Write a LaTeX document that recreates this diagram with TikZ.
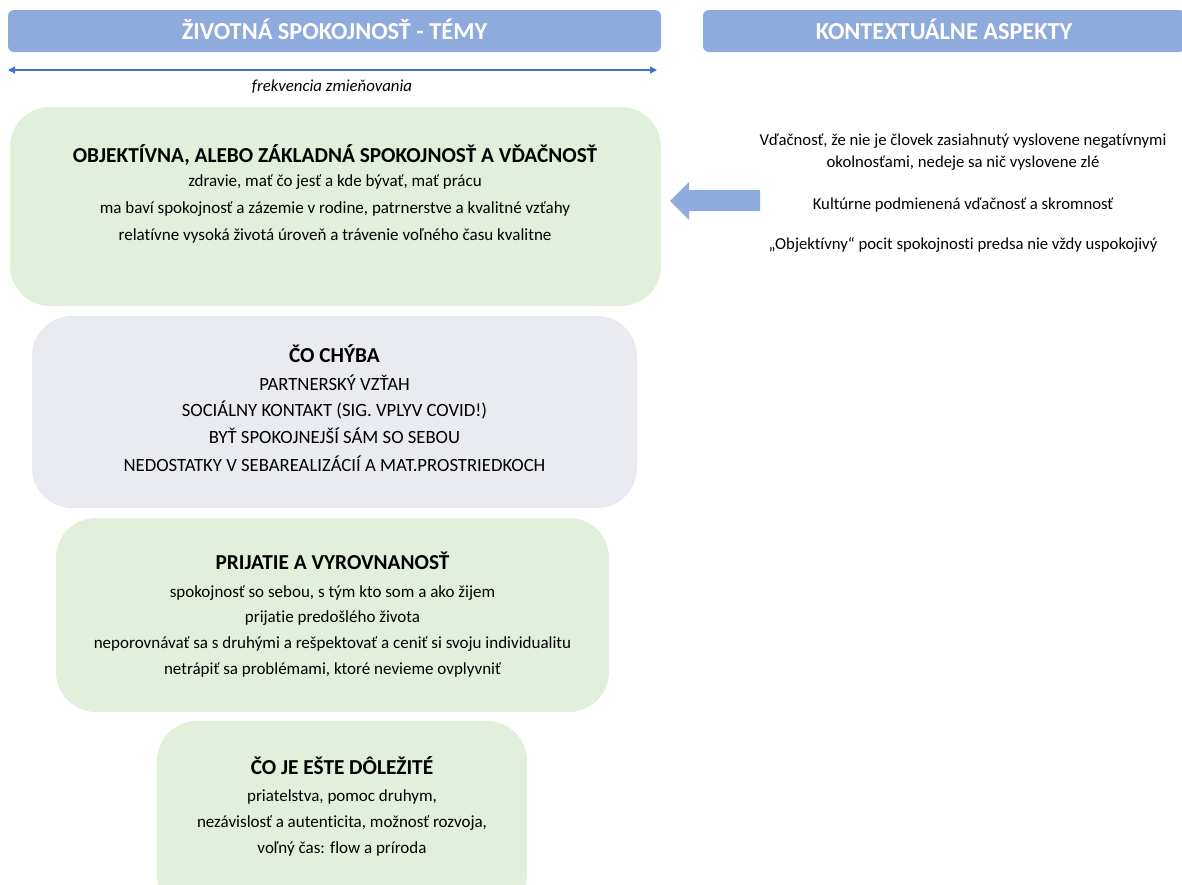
\documentclass[tikz,border=0pt]{standalone}
\usepackage{fontspec}
\setmainfont[Ligatures=NoCommon]{Carlito}
\usetikzlibrary{arrows.meta}
\definecolor{hdrblue}{HTML}{8FAADC}
\definecolor{lineblue}{HTML}{4472C4}
\definecolor{boxgreen}{HTML}{E2EFDA}
\definecolor{boxgray}{HTML}{E9EBF0}
\tikzset{
  x=1pt, y=-1pt,
  hdr/.style={fill=hdrblue, draw=none, rounded corners=6pt, inner sep=0pt},
  hdrtxt/.style={anchor=base, text=white, font=\fontsize{24.3}{28}\selectfont\bfseries, inner sep=0pt},
  gbox/.style={fill=boxgreen, draw=none, rounded corners=40pt, inner sep=0pt},
  ybox/.style={fill=boxgray, draw=none, rounded corners=40pt, inner sep=0pt},
  ttl/.style={anchor=base, font=\fontsize{21.3}{24}\selectfont\bfseries, inner sep=0pt},
  body/.style={anchor=base, font=\fontsize{17}{20}\selectfont, inner sep=0pt},
  capsbody/.style={anchor=base, font=\fontsize{18.7}{22}\selectfont, inner sep=0pt},
  ctx/.style={anchor=base, font=\fontsize{16.7}{20}\selectfont, inner sep=0pt},
}
\begin{document}
\begin{tikzpicture}
\useasboundingbox (0,0) rectangle (1182,884);
\clip (0,0) rectangle (1182,884);

% headers
\node[hdr, minimum width=653pt, minimum height=42pt] (h1) at (334.5,31) {};
\node[hdrtxt] (h1t) at (334.5,39) {ŽIVOTNÁ SPOKOJNOSŤ - TÉMY};
\node[hdr, minimum width=482pt, minimum height=42pt] (h2) at (944,31) {};
\node[hdrtxt] (h2t) at (944,39) {KONTEXTUÁLNE ASPEKTY};

% frequency arrow
\coordinate (fl) at (8,70);
\coordinate (fr) at (657,70);
\draw[lineblue, line width=1.3pt, {Triangle[length=7pt,width=7pt]}-{Triangle[length=7pt,width=7pt]}] (fl) -- (fr);
\node[body, font=\fontsize{16.8}{20}\selectfont\itshape] (freq) at (332,91) {frekvencia zmieňovania};

% box 1
\node[gbox, minimum width=651pt, minimum height=199pt] (b1) at (335.5,206.5) {};
\node[ttl] (b1t) at (335,162) {OBJEKTÍVNA, ALEBO ZÁKLADNÁ SPOKOJNOSŤ A VĎAČNOSŤ};
\node[body] (b1a) at (335,186) {zdravie, mať čo jesť a kde bývať, mať prácu};
\node[body] (b1b) at (335,213) {ma baví spokojnosť a zázemie v rodine, patrnerstve a kvalitné vzťahy};
\node[body] (b1c) at (335,240) {relatívne vysoká životá úroveň a trávenie voľného času kvalitne};

% box 2
\node[ybox, minimum width=605pt, minimum height=192pt] (b2) at (334.5,412) {};
\node[ttl] (b2t) at (334.5,362) {ČO CHÝBA};
\node[capsbody] (b2a) at (334.5,390) {PARTNERSKÝ VZŤAH};
\node[capsbody] (b2b) at (334.5,416) {SOCIÁLNY KONTAKT (SIG. VPLYV COVID!)};
\node[capsbody] (b2c) at (334.5,443) {BYŤ SPOKOJNEJŠÍ SÁM SO SEBOU};
\node[capsbody] (b2d) at (334.5,471) {NEDOSTATKY V SEBAREALIZÁCIÍ A MAT.PROSTRIEDKOCH};

% box 3
\node[gbox, minimum width=553pt, minimum height=194pt] (b3) at (332.5,615) {};
\node[ttl] (b3t) at (332.5,569) {PRIJATIE A VYROVNANOSŤ};
\node[body] (b3a) at (332.5,597) {spokojnosť so sebou, s tým kto som a ako žijem};
\node[body] (b3b) at (332.5,622) {prijatie predošlého života};
\node[body] (b3c) at (332.5,648) {neporovnávať sa s druhými a rešpektovať a ceniť si svoju individualitu};
\node[body] (b3d) at (332.5,674) {netrápiť sa problémami, ktoré nevieme ovplyvniť};

% box 4
\node[gbox, minimum width=370pt, minimum height=194pt] (b4) at (342,818) {};
\node[ttl] (b4t) at (342,774) {ČO JE EŠTE DÔLEŽITÉ};
\node[body] (b4a) at (342,801) {priatelstva, pomoc druhym,};
\node[body] (b4b) at (342,827) {nezávislosť a autenticita, možnosť rozvoja,};
\node[body] (b4c) at (342,853) {voľný čas: flow a príroda};

% context texts
\node[ctx] (c1) at (963,145) {Vďačnosť, že nie je človek zasiahnutý vyslovene negatívnymi};
\node[ctx] (c2) at (963,167) {okolnosťami, nedeje sa nič vyslovene zlé};
\node[ctx] (c3) at (963,209) {Kultúrne podmienená vďačnosť a skromnosť};
\node[ctx] (c4) at (963,249) {„Objektívny“ pocit spokojnosti predsa nie vždy uspokojivý};

% block arrow
\fill[hdrblue] (670,201) -- (689,182) -- (689,190) -- (760,190) -- (760,211) -- (689,211) -- (689,220) -- cycle;
\end{tikzpicture}
\end{document}
